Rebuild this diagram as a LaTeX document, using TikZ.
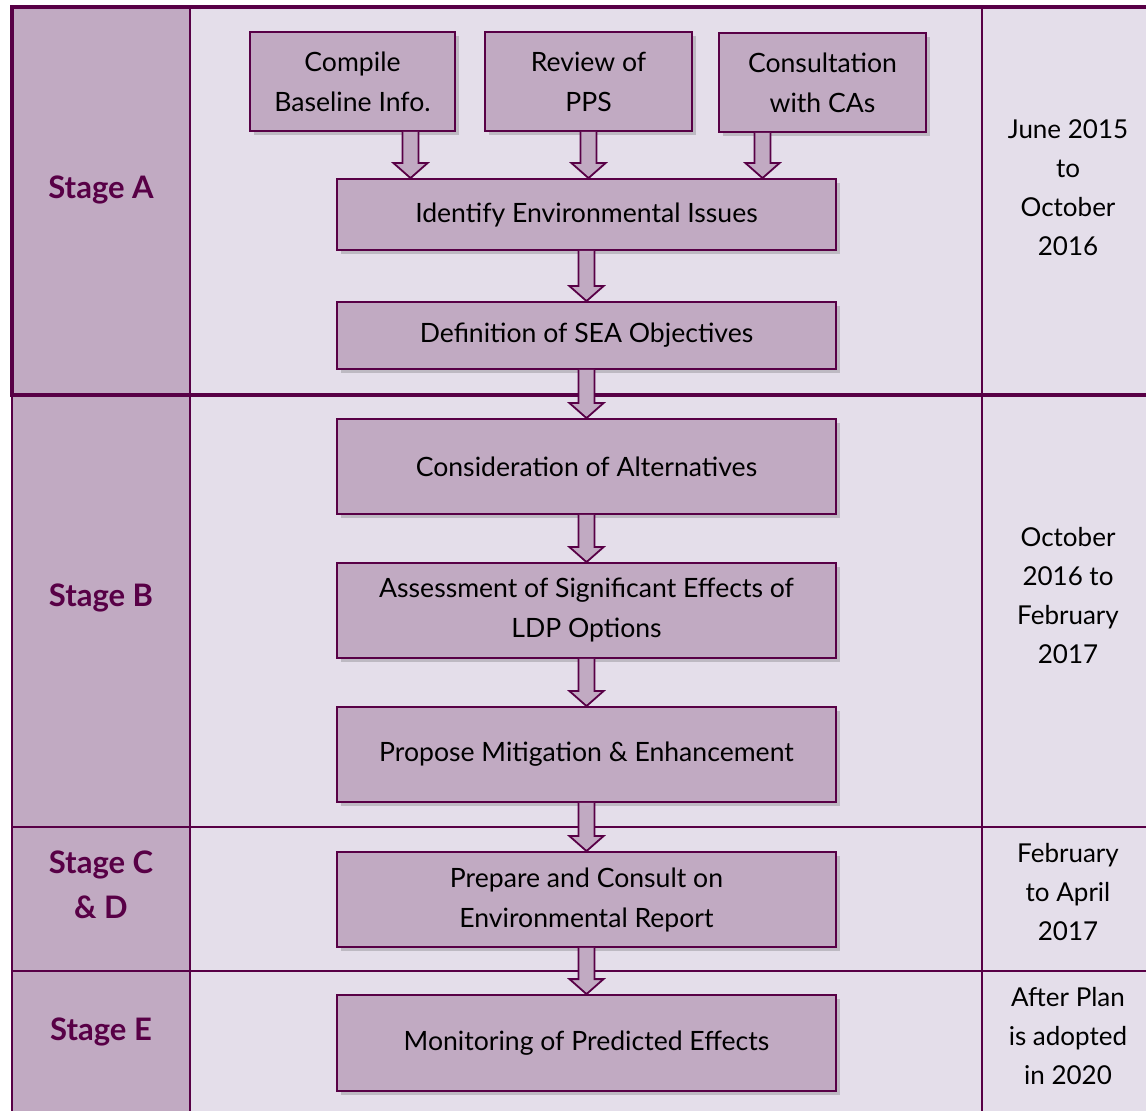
\documentclass[tikz,border=0pt]{standalone}
\usepackage{fontspec}
\setmainfont{Lato}
\usetikzlibrary{calc,shadows}

\definecolor{plum}{HTML}{580046}
\definecolor{mauve}{HTML}{C1AAC2}
\definecolor{lilac}{HTML}{E4DEEA}

\begin{document}
\begin{tikzpicture}[x=0.5pt, y=-0.5pt,
  grid/.style={draw=plum, line width=1pt},
  frame/.style={draw=plum, line width=2pt},
  stagename/.style={font=\fontsize{15.5}{22.5}\selectfont\bfseries, text=plum, align=center},
  period/.style={font=\fontsize{13}{19.5}\selectfont, align=center},
  task/.style={draw=plum, line width=0.9pt, fill=mauve, align=center, inner sep=0pt,
    font=\fontsize{13.3}{20}\selectfont,
    drop shadow={shadow xshift=2pt, shadow yshift=-2pt, opacity=0.25, fill=black!70}},
  blockarr/.style={draw=plum, line width=0.9pt, fill=mauve, line join=miter,
    to path={let \p1=(\tikztostart), \p2=(\tikztotarget) in
      (\x1-4pt,\y1) -- (\x1-4pt,\y2+7.5pt) -- (\x1-8.5pt,\y2+7.5pt) -- (\x1,\y2)
      -- (\x1+8.5pt,\y2+7.5pt) -- (\x1+4pt,\y2+7.5pt) -- (\x1+4pt,\y1)}},
]

% ---------------------------------------------------------------- table
\fill[white] (0,0) rectangle (1146,1111);
\useasboundingbox (0,0) rectangle (1146,1111);
\clip (0,0) rectangle (1146,1111);
\fill[lilac] (12,7) rectangle (1170,1130);
\fill[mauve] (12,7) rectangle (190,1130);
\draw[grid] (12,395) -- (12,1130) (190,7) -- (190,1130) (982,7) -- (982,1130)
  (12,827) -- (1170,827) (12,971) -- (1170,971);
\draw[frame] (12,7) rectangle (1170,395);

% ---------------------------------------------------------------- stages and dates
\node[stagename] (stA) at (101,190) {Stage A};
\node[stagename] (stB) at (101,598) {Stage B};
\node[stagename] (stCD) at (101,885) {Stage C\\\& D};
\node[stagename] (stE) at (101,1032) {Stage E};
\node[period] (dtA) at (1068,188) {June 2015\\to\\October\\2016};
\node[period] (dtB) at (1068,596) {October\\2016 to\\February\\2017};
\node[period] (dtCD) at (1068,892) {February\\to April\\2017};
\node[period] (dtE) at (1068,1036) {After Plan\\is adopted\\in 2020};

% ---------------------------------------------------------------- tasks
\node[task, minimum width=102.5pt, minimum height=49.5pt] (base) at (352.5,81.5) {Compile\\Baseline Info.};
\node[task, minimum width=103.5pt, minimum height=49.5pt] (pps) at (588.5,81.5) {Review of\\PPS};
\node[task, minimum width=103.5pt, minimum height=49.5pt] (cas) at (822.5,82.5) {Consultation\\with CAs};
\node[task, minimum width=249.5pt, minimum height=35.5pt] (issues) at (586.5,214.5) {Identify Environmental Issues};
\node[task, minimum width=249.5pt, minimum height=33.5pt] (objs) at (586.5,335.5) {Definition of SEA Objectives};
\node[task, minimum width=249.5pt, minimum height=47.5pt] (alts) at (586.5,466.5) {Consideration of Alternatives};
\node[task, minimum width=249.5pt, minimum height=47.5pt] (effects) at (586.5,610.5) {Assessment of Significant Effects of\\LDP Options};
\node[task, minimum width=249.5pt, minimum height=47.5pt] (mitig) at (586.5,754.5) {Propose Mitigation \& Enhancement};
\node[task, minimum width=249.5pt, minimum height=47.5pt] (report) at (586.5,899.5) {Prepare and Consult on\\Environmental Report};
\node[task, minimum width=249.5pt, minimum height=48pt] (monit) at (586.5,1043) {Monitoring of Predicted Effects};

% ---------------------------------------------------------------- arrows
\coordinate (a1) at ([xshift=29pt]base.south);
\coordinate (a3) at ([xshift=-30pt]cas.south);
\draw[blockarr] (a1) to (a1 |- issues.north);
\draw[blockarr] (pps.south) to (pps.south |- issues.north);
\draw[blockarr] (a3) to (a3 |- issues.north);
\draw[blockarr] (issues.south) to (objs.north);
\draw[blockarr] (objs.south) to (alts.north);
\draw[blockarr] (alts.south) to (effects.north);
\draw[blockarr] (effects.south) to (mitig.north);
\draw[blockarr] (mitig.south) to (report.north);
\draw[blockarr] (report.south) to (monit.north);
\end{tikzpicture}
\end{document}
